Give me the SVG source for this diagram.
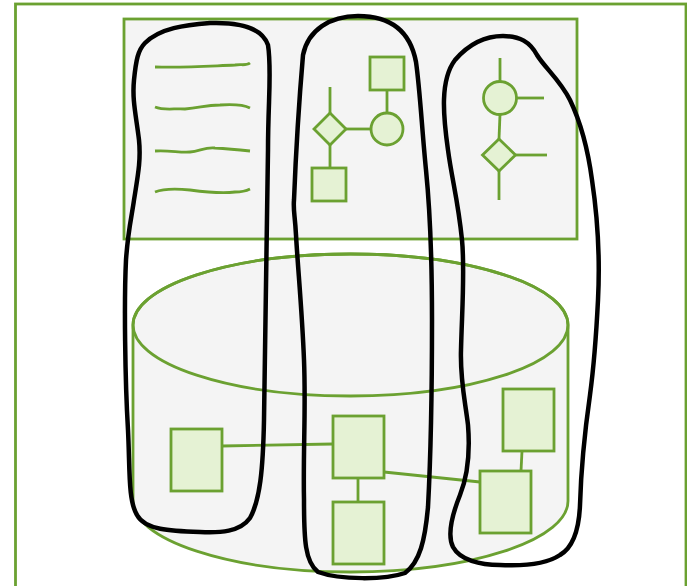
<svg xmlns="http://www.w3.org/2000/svg" width="687" height="586" viewBox="0 0 687 586">
<style>
.g{stroke:#6ba131;stroke-width:2.8;fill:none}
.f{fill:#e5f2d4;stroke:#6ba131;stroke-width:2.8}
.p{fill:#f4f4f4;stroke:#6ba131;stroke-width:2.8}
.b{fill:none;stroke:#000;stroke-width:4.5;stroke-linejoin:round}
</style>
<rect id="frame" x="15.5" y="4" width="670.5" height="600" fill="#fff" stroke="#6ba131" stroke-width="2.8"/>
<g id="panel"><rect x="124" y="19" width="453" height="220" class="p"/></g>
<g id="cylinder">
<path class="p" d="M133 325 A217.5 71 0 0 1 568 325 L568 501 A217.5 71 0 0 1 133 501 Z"/>
<ellipse class="g" cx="350.5" cy="325" rx="217.5" ry="71"/>
</g>
<g id="textlines" class="g">
<path d="M155 67 C185 68 210 66 235 65 C242 64 246 66 250 63"/>
<path d="M155 107 C165 111 175 108 185 109 C200 108 205 105 220 105 C235 104 244 105 250 108"/>
<path d="M155 151 C170 150 180 153 190 152 C200 151 205 147 215 148 C230 149 240 150 250 151"/>
<path d="M155 192 C165 188 180 189 190 190 C205 192 220 194 235 192 C242 192 246 191 250 189"/>
</g>
<g id="n-rect-top"><rect class="f" x="370" y="57" width="34" height="33"/></g>
<g id="n-circle-mid"><circle class="f" cx="387" cy="129" r="16"/></g>
<g id="n-diamond-mid"><path class="f" d="M330 113 L346 129 L330 145 L314 129 Z"/></g>
<g id="n-rect-low"><rect class="f" x="312" y="168" width="34" height="33"/></g>
<g id="n-circle-right"><circle class="f" cx="500" cy="98" r="16.5"/></g>
<g id="n-diamond-right"><path class="f" d="M499 139 L515.5 155 L499 171 L482.5 155 Z"/></g>
<g id="n-boxA"><rect class="f" x="171" y="429" width="51" height="62"/></g>
<g id="n-boxB"><rect class="f" x="333" y="416" width="51" height="62"/></g>
<g id="n-boxC"><rect class="f" x="333" y="502" width="51" height="62"/></g>
<g id="n-boxD"><rect class="f" x="503" y="389" width="51" height="62"/></g>
<g id="n-boxE"><rect class="f" x="480" y="471" width="51" height="62"/></g>
<g id="connectors" class="g">
<line x1="330" y1="87" x2="330" y2="113"/>
<line x1="346" y1="129" x2="371" y2="129"/>
<line x1="387" y1="90" x2="387" y2="113"/>
<line x1="330" y1="145" x2="330" y2="168"/>
<line x1="500" y1="58" x2="500" y2="81.5"/>
<line x1="516.5" y1="98" x2="544" y2="98"/>
<line x1="500" y1="114.5" x2="499" y2="139"/>
<line x1="515.5" y1="155" x2="547" y2="155"/>
<line x1="499" y1="171" x2="499" y2="200"/>
<line x1="222" y1="446" x2="333" y2="444"/>
<line x1="358" y1="478" x2="358" y2="502"/>
<line x1="384" y1="472" x2="480" y2="482"/>
<line x1="522" y1="451" x2="521" y2="471"/>
</g>
<g id="blob-left"><path class="b" d="M210 23 C240 22 262 28 268 45 C272 70 268 100 268 150 C267 250 265 350 264 420 C263 470 260 500 250 518 C240 532 220 533 200 532 C170 531 145 530 137 515 C128 500 130 470 128 430 C125 380 124 300 126 260 C128 230 132 215 134 200 C138 175 141 160 139 140 C136 115 132 100 134 80 C136 60 138 50 145 43 C160 28 185 25 210 23 Z"/></g>
<g id="blob-mid"><path class="b" d="M358 16 C390 16 410 30 416 62 C420 90 422 130 426 170 C430 210 432 260 432 320 C432 400 430 470 428 507 C425 540 420 562 405 573 C385 580 340 580 318 572 C305 562 304 540 304 500 C303 450 306 410 304 360 C302 310 298 270 296 235 C295 215 293 210 294 200 C296 150 300 90 303 55 C308 30 330 16 358 16 Z"/></g>
<g id="blob-right"><path class="b" d="M503 36 C520 36 530 42 537 55 C545 68 560 80 570 100 C582 125 588 150 592 180 C598 220 600 260 598 300 C596 340 594 365 590 395 C585 430 581 470 580 505 C579 530 572 548 560 555 C545 565 520 566 500 565 C480 565 460 560 453 547 C447 535 452 515 460 495 C468 475 470 450 468 425 C465 400 460 380 461 350 C462 310 465 270 462 240 C458 200 452 180 448 150 C443 115 440 80 455 60 C468 45 485 36 503 36 Z"/></g>
</svg>
